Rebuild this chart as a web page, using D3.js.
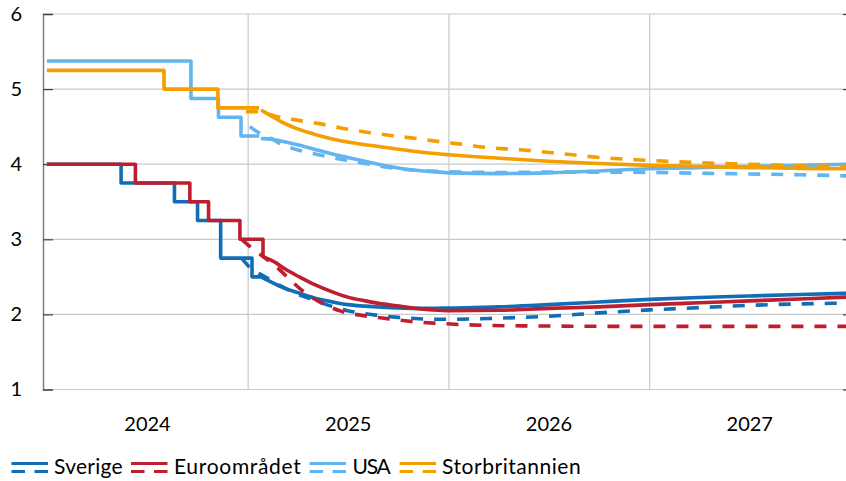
<!DOCTYPE html>
<html><head><meta charset="utf-8">
<script src="https://cdn.jsdelivr.net/npm/d3@7"></script>
<style>
html,body{margin:0;padding:0;background:#fff;}
svg{display:block;font-family:Lato,"Open Sans",sans-serif;}
</style></head><body>
<svg id="chart" width="846" height="481"></svg>
<script>
// ---------- data ----------
const yTicks = [1, 2, 3, 4, 5, 6];
const yearLabels = ["2024", "2025", "2026", "2027"];
const yearGrid = ["2025-01-01", "2026-01-01", "2027-01-01"];
const seriesNames = ["Sverige", "Euroområdet", "USA", "Storbritannien"];
const seriesColors = ["#106db6", "#be1e2d", "#63b5f0", "#f59e00"];

// policy rates (outcome, step lines)
const seHist = [["2024-01-01",4.00],["2024-05-15",3.75],["2024-08-20",3.50],["2024-10-01",3.25],["2024-11-12",2.75],["2025-01-08",2.50],["2025-01-25",2.50]];
const euHist = [["2024-01-01",4.00],["2024-06-10",3.75],["2024-09-17",3.50],["2024-10-21",3.25],["2024-12-17",3.00],["2025-01-28",2.77]];
const usHist = [["2024-01-01",5.375],["2024-09-19",4.875],["2024-11-08",4.625],["2024-12-19",4.375],["2025-01-21",4.375]];
const ukHist = [["2024-01-01",5.25],["2024-08-01",5.00],["2024-11-07",4.75],["2025-01-21",4.75]];

// current market expectations (solid)
const seSolid = [["2025-01-27",2.49],["2025-02-15",2.42],["2025-03-01",2.37],["2025-04-01",2.29],["2025-05-01",2.22],["2025-06-01",2.17],["2025-07-01",2.13],["2025-08-01",2.11],["2025-09-01",2.095],["2025-10-01",2.085],["2025-11-01",2.08],["2025-12-01",2.08],["2026-01-01",2.085],["2026-04-01",2.10],["2026-07-01",2.13],["2026-10-01",2.165],["2027-01-01",2.20],["2027-04-01",2.225],["2027-07-01",2.245],["2027-10-01",2.265],["2027-12-24",2.28]];
const euSolid = [["2025-01-28",2.77],["2025-02-20",2.69],["2025-03-10",2.60],["2025-04-04",2.50],["2025-05-01",2.40],["2025-06-03",2.30],["2025-07-01",2.23],["2025-08-02",2.18],["2025-09-01",2.14],["2025-10-03",2.11],["2025-11-01",2.08],["2025-12-02",2.06],["2026-01-01",2.05],["2026-04-01",2.055],["2026-07-01",2.08],["2026-10-01",2.10],["2027-01-01",2.13],["2027-04-01",2.155],["2027-07-01",2.18],["2027-10-01",2.205],["2027-12-24",2.23]];
const usSolid = [["2025-01-27",4.34],["2025-02-15",4.33],["2025-03-01",4.31],["2025-04-01",4.26],["2025-05-01",4.20],["2025-06-01",4.14],["2025-07-01",4.09],["2025-08-01",4.04],["2025-09-01",3.99],["2025-10-01",3.95],["2025-11-01",3.92],["2025-12-01",3.90],["2026-01-01",3.885],["2026-04-01",3.875],["2026-07-01",3.885],["2026-10-01",3.91],["2027-01-01",3.94],["2027-04-01",3.955],["2027-07-01",3.97],["2027-10-01",3.985],["2027-12-24",4.00]];
const ukSolid = [["2025-01-27",4.71],["2025-02-15",4.63],["2025-03-01",4.57],["2025-04-01",4.47],["2025-05-01",4.40],["2025-06-01",4.34],["2025-07-01",4.295],["2025-08-01",4.26],["2025-09-01",4.23],["2025-10-01",4.20],["2025-11-01",4.17],["2025-12-01",4.145],["2026-01-01",4.125],["2026-04-01",4.08],["2026-07-01",4.04],["2026-10-01",4.01],["2027-01-01",3.985],["2027-04-01",3.97],["2027-07-01",3.955],["2027-10-01",3.945],["2027-12-24",3.94]];

// earlier expectations (dashed)
const seDash = [["2024-12-20",2.75],["2025-01-05",2.62],["2025-01-27",2.52],["2025-02-15",2.44],["2025-03-01",2.38],["2025-04-01",2.27],["2025-05-01",2.19],["2025-06-01",2.11],["2025-07-01",2.05],["2025-08-01",2.01],["2025-09-01",1.98],["2025-10-01",1.96],["2025-11-01",1.945],["2025-12-01",1.935],["2026-01-01",1.935],["2026-04-01",1.95],["2026-07-01",1.975],["2026-10-01",2.02],["2027-01-01",2.06],["2027-04-01",2.09],["2027-07-01",2.12],["2027-10-01",2.14],["2027-12-24",2.15]];
const euDash = [["2024-12-20",3.00],["2025-01-05",2.90],["2025-02-20",2.64],["2025-03-13",2.50],["2025-04-04",2.35],["2025-05-10",2.17],["2025-06-20",2.04],["2025-08-02",1.98],["2025-09-15",1.94],["2025-11-01",1.90],["2025-12-15",1.88],["2026-03-01",1.855],["2026-07-01",1.845],["2027-01-01",1.84],["2027-12-24",1.84]];
const usDash = [["2025-01-04",4.50],["2025-01-20",4.42],["2025-02-15",4.33],["2025-03-01",4.27],["2025-04-01",4.19],["2025-05-01",4.14],["2025-06-01",4.09],["2025-07-01",4.05],["2025-08-01",4.01],["2025-09-01",3.97],["2025-10-01",3.94],["2025-11-01",3.92],["2025-12-01",3.91],["2026-01-01",3.90],["2026-04-01",3.89],["2026-07-01",3.895],["2026-10-01",3.895],["2027-01-01",3.89],["2027-04-01",3.88],["2027-07-01",3.87],["2027-10-01",3.86],["2027-12-24",3.845]];
const ukDash = [["2024-12-28",4.70],["2025-01-20",4.70],["2025-01-27",4.69],["2025-02-20",4.64],["2025-03-28",4.59],["2025-05-10",4.54],["2025-06-20",4.48],["2025-08-10",4.42],["2025-09-20",4.38],["2025-11-05",4.34],["2025-12-15",4.30],["2026-01-30",4.26],["2026-03-01",4.23],["2026-05-15",4.19],["2026-07-25",4.14],["2026-10-01",4.09],["2027-01-01",4.05],["2027-04-01",4.02],["2027-07-01",4.00],["2027-10-01",3.98],["2027-12-24",3.97]];

// ---------- chart ----------
const parse = d3.utcParse("%Y-%m-%d");
const svg = d3.select("#chart");
const L = 43, R = 846, T = 14, B = 389.5;

const x = d3.scaleUtc().domain([parse("2023-12-25"), parse("2027-12-24")]).range([L, R]);
const y = d3.scaleLinear().domain([1, 6]).range([B, T]);

const gridColor = "#c9c9c9";
svg.append("g").selectAll("line").data(yTicks).join("line")
  .attr("x1", L).attr("x2", R).attr("y1", d => y(d)).attr("y2", d => y(d))
  .attr("stroke", gridColor).attr("stroke-width", 1.2);
svg.append("g").selectAll("line").data(yearGrid).join("line")
  .attr("x1", d => x(parse(d))).attr("x2", d => x(parse(d)))
  .attr("y1", T).attr("y2", B)
  .attr("stroke", gridColor).attr("stroke-width", 1.2);

// left axis
const yAxisL = d3.axisLeft(y).tickValues(yTicks).tickSize(-10).tickPadding(21).tickFormat(d3.format("d"));
const gL = svg.append("g").attr("transform", `translate(${L},0)`).call(yAxisL);
gL.select(".domain").attr("stroke", "#7f7f7f").attr("stroke-width", 1.5);
gL.selectAll(".tick line").attr("stroke", "#404040").attr("stroke-width", 1.2);
gL.selectAll(".tick text").attr("font-size", 20).attr("fill", "#000").attr("font-family", "Lato");
// right axis ticks
const yAxisR = d3.axisRight(y).tickValues(yTicks).tickSize(-10).tickFormat("");
const gR = svg.append("g").attr("transform", `translate(853,0)`).call(yAxisR);
gR.select(".domain").remove();
gR.selectAll(".tick line").attr("stroke", "#404040").attr("stroke-width", 1.2);

// year labels
svg.append("g").selectAll("text").data(yearLabels).join("text")
  .attr("x", d => x(parse(d + "-07-02")))
  .attr("y", 424).attr("dy", "0.35em")
  .attr("text-anchor", "middle").attr("font-size", 20).attr("fill", "#000")
  .text(d => d);

// lines
const toPts = arr => arr.map(d => [parse(d[0]), d[1]]);
const stepLine = d3.line().x(d => x(d[0])).y(d => y(d[1])).curve(d3.curveStepAfter);
const smoothLine = d3.line().x(d => x(d[0])).y(d => y(d[1])).curve(d3.curveMonotoneX);

const hists = [seHist, euHist, usHist, ukHist];
const solids = [seSolid, euSolid, usSolid, ukSolid];
const dashes = [seDash, euDash, usDash, ukDash];
const gLines = svg.append("g").attr("fill", "none").attr("stroke-width", 3.6);

seriesNames.forEach((name, i) => {
  gLines.append("path").attr("d", smoothLine(toPts(dashes[i])))
    .attr("stroke", seriesColors[i]).attr("stroke-dasharray", "12,11");
  gLines.append("path").attr("d", stepLine(toPts(hists[i])))
    .attr("stroke", seriesColors[i]).attr("stroke-linejoin", "round");
  gLines.append("path").attr("d", smoothLine(toPts(solids[i])))
    .attr("stroke", seriesColors[i]).attr("stroke-linecap", "round");
});

// legend
const legendSymX = [11.5, 131, 309.6, 399.6];
const legendTextX = [54, 174, 352.5, 442];
const legendTextW = [68.6, 126.8, 38.3, 138.7];
const lg = svg.append("g");
const ly = 467;
seriesNames.forEach((name, i) => {
  const cx = legendSymX[i];
  const g = lg.append("g");
  g.append("line").attr("x1", cx).attr("x2", cx + 36.5).attr("y1", ly - 3.5).attr("y2", ly - 3.5)
    .attr("stroke", seriesColors[i]).attr("stroke-width", 3);
  g.append("line").attr("x1", cx).attr("x2", cx + 36.5).attr("y1", ly + 4.5).attr("y2", ly + 4.5)
    .attr("stroke", seriesColors[i]).attr("stroke-width", 3).attr("stroke-dasharray", "13.5,9.5");
  g.append("text").attr("x", legendTextX[i]).attr("y", ly).attr("dy", "0.35em")
    .attr("font-size", 21).attr("fill", "#000")
    .attr("textLength", legendTextW[i]).attr("lengthAdjust", "spacing")
    .text(name);
});
</script>
</body></html>
